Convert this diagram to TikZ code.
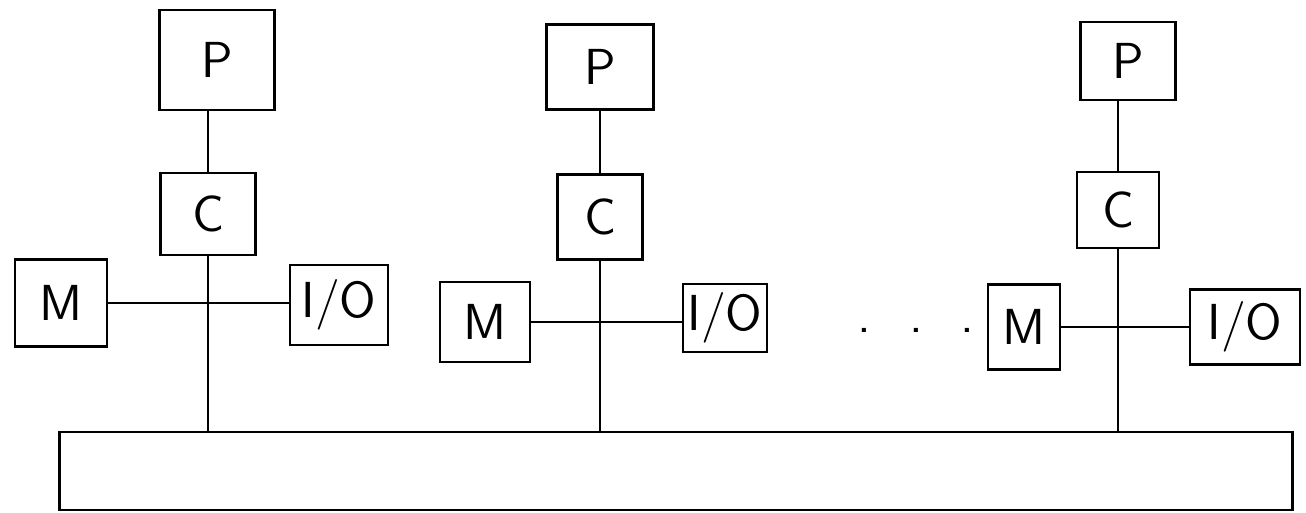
\documentclass[tikz,border=0pt]{standalone}
\usepackage{tikz}

\begin{document}
\begin{tikzpicture}[
    x=0.01cm, y=-0.01cm,
    font=\sffamily\Large,
    box/.style={draw, line width=0.7pt, inner sep=0pt, align=center},
    link/.style={line width=0.7pt},
  ]
    \useasboundingbox (0,0) rectangle (1306,512);

    % shared bus
    \node[box, minimum width=12.32cm, minimum height=0.78cm] (bus) at (676,471) {};

    % first node
    \node[box, minimum width=1.15cm, minimum height=1.0cm] (p1) at (217,60) {P};
    \node[box, minimum width=0.95cm, minimum height=0.82cm] (c1) at (208,214) {C};
    \node[box, minimum width=0.92cm, minimum height=0.87cm] (m1) at (61,303) {M};
    \node[box, minimum width=0.98cm, minimum height=0.80cm] (io1) at (339,305) {I/O};
    \draw[link] (c1.north) -- (c1.north |- p1.south);
    \draw[link] (c1.south) -- (c1.south |- bus.north);
    \draw[link] (m1.east) -- (m1.east -| io1.west);

    % second node
    \node[box, minimum width=1.07cm, minimum height=0.85cm] (p2) at (600,67) {P};
    \node[box, minimum width=0.85cm, minimum height=0.85cm] (c2) at (600,217) {C};
    \node[box, minimum width=0.90cm, minimum height=0.80cm] (m2) at (485,322) {M};
    \node[box, minimum width=0.84cm, minimum height=0.68cm] (io2) at (725,318) {I/O};
    \draw[link] (c2.north) -- (c2.north |- p2.south);
    \draw[link] (c2.south) -- (c2.south |- bus.north);
    \draw[link] (m2.east) -- (m2.east -| io2.west);

    % gap
    \node (dots) at (916,330) {.\hspace{0.38cm}.\hspace{0.38cm}.};

    % last node
    \node[box, minimum width=0.95cm, minimum height=0.78cm] (p3) at (1128,61) {P};
    \node[box, minimum width=0.82cm, minimum height=0.76cm] (c3) at (1118,210) {C};
    \node[box, minimum width=0.72cm, minimum height=0.85cm] (m3) at (1024,327) {M};
    \node[box, minimum width=1.10cm, minimum height=0.75cm] (io3) at (1245,327) {I/O};
    \draw[link] (c3.north) -- (c3.north |- p3.south);
    \draw[link] (c3.south) -- (c3.south |- bus.north);
    \draw[link] (m3.east) -- (m3.east -| io3.west);
  \end{tikzpicture}
\end{document}
